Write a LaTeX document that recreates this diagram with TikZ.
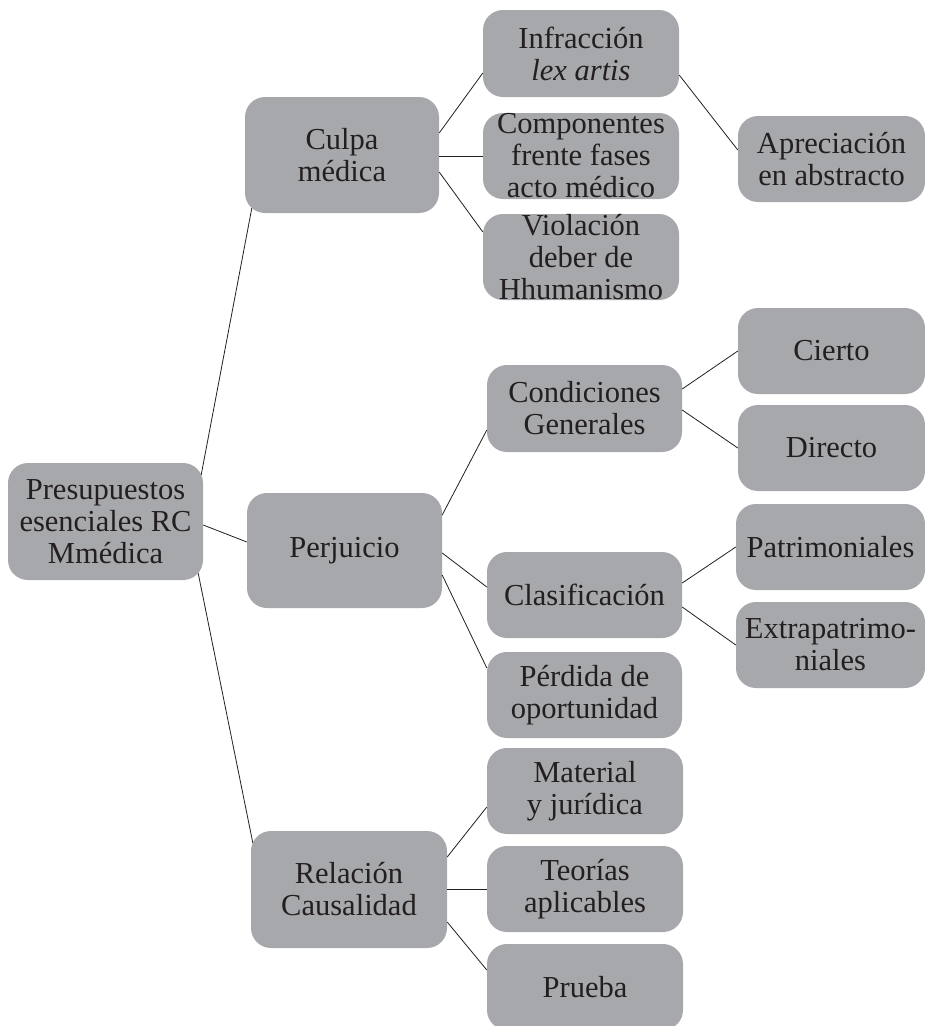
\documentclass[tikz,border=0pt]{standalone}
\usepackage{fontspec}
\setmainfont{Liberation Serif}
\usetikzlibrary{calc}
\definecolor{boxgray}{RGB}{167,168,172}
\definecolor{ink}{RGB}{35,31,32}
\begin{document}
\begin{tikzpicture}[x=1pt,y=1pt,
  box/.style={rectangle, rounded corners=20pt, fill=boxgray, draw=none,
    inner sep=0pt, align=center, text=ink,
    font=\fontsize{30.5}{32}\selectfont},
  wide/.style={box, minimum width=195pt, minimum height=116pt},
  small/.style={box, minimum width=196pt, minimum height=86pt},
  leaf/.style={box, minimum width=188pt, minimum height=86pt},
  link/.style={draw=ink, line width=0.8pt}]
\useasboundingbox (0,0) rectangle (925,-1026);
\fill[white] (0,0) rectangle (925,-1026);

% first level
\node[wide, minimum height=117pt] (root) at (105.5,-521.5) {Presupuestos\\esenciales RC\\Mmédica};
\node[wide, minimum width=194pt] (culpa) at (342,-155) {Culpa\\médica};
\node[wide, minimum height=115pt] (perj) at (344.5,-550.5) {Perjuicio};
\node[wide, minimum width=196pt, minimum height=117pt] (rel) at (349,-889.5) {Relación\\Causalidad};

% culpa branch
\node[small, minimum height=87pt] (infr) at (581,-53.5) {Infracción\\\textit{lex artis}};
\node[small] (comp) at (581,-156) {Componentes\\frente fases\\acto médico};
\node[small] (viol) at (581,-257) {Violación\\deber de\\Hhumanismo};
\node[leaf, minimum width=187pt] (apre) at (831.5,-159) {Apreciación\\en abstracto};

% perjuicio branch
\node[small, minimum width=195pt, minimum height=87pt] (cond) at (584.5,-408.5) {Condiciones\\Generales};
\node[small, minimum width=195pt] (clas) at (584.5,-595) {Clasificación};
\node[small, minimum width=195pt] (perd) at (584.5,-695) {Pérdida de\\oportunidad};
\node[leaf, minimum width=187pt] (cierto) at (831.5,-351) {Cierto};
\node[leaf, minimum width=187pt] (directo) at (831.5,-448) {Directo};
\node[leaf, minimum width=189pt] (patr) at (830.5,-547) {Patrimoniales};
\node[leaf, minimum width=189pt] (extra) at (830.5,-645) {Extrapatrimo-\\niales};

% causalidad branch
\node[small] (mat) at (585,-791) {Material\\y jurídica};
\node[small] (teo) at (585,-889) {Teorías\\aplicables};
\node[small] (prue) at (585,-987) {Prueba};

% connectors
\draw[link] ($(root.north east)+(-2,-12)$) -- ($(culpa.south west)+(7,5)$);
\draw[link] ([yshift=-3.5]root.east) -- ([yshift=8.5]perj.west);
\draw[link] ($(root.south east)+(-5,7)$) -- ($(rel.north west)+(2,-12)$);

\draw[link] ([yshift=22]culpa.east) -- ([yshift=-19.5]infr.west);
\draw[link] (culpa.east |- comp.west) -- (comp.west);
\draw[link] ([yshift=-17]culpa.east) -- ([yshift=25]viol.west);
\draw[link] ([yshift=-21.5]infr.east) -- ([yshift=9]apre.west);

\draw[link] ([yshift=35.5]perj.east) -- ([yshift=-21.5]cond.west);
\draw[link] ([yshift=-2.5]perj.east) -- ([yshift=8]clas.west);
\draw[link] ([yshift=-24.5]perj.east) -- ([yshift=27]perd.west);
\draw[link] ([yshift=19.5]cond.east) -- (cierto.west);
\draw[link] ([yshift=-1.5]cond.east) -- (directo.west);
\draw[link] ([yshift=12]clas.east) -- (patr.west);
\draw[link] ([yshift=-12]clas.east) -- (extra.west);

\draw[link] ([yshift=32.5]rel.east) -- ([yshift=-16]mat.west);
\draw[link] (rel.east |- teo.west) -- (teo.west);
\draw[link] ([yshift=-32.5]rel.east) -- ([yshift=17]prue.west);
\end{tikzpicture}
\end{document}
